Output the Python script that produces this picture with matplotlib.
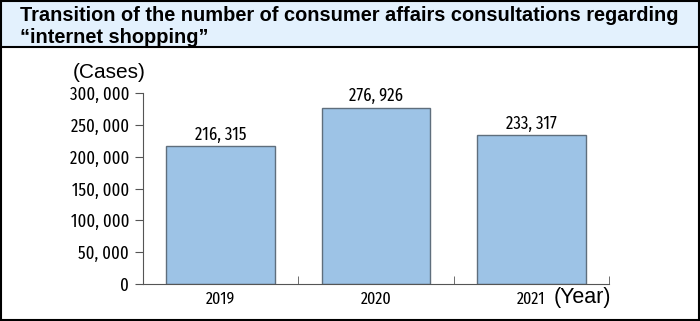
import matplotlib.pyplot as plt
from matplotlib.patches import Rectangle
from matplotlib.lines import Line2D

years = ["2019", "2020", "2021"]
cases = [216315, 276926, 233317]
value_labels = ["216, 315", "276, 926", "233, 317"]
yticks = [0, 50000, 100000, 150000, 200000, 250000, 300000]
ytick_labels = ["0", "50, 000", "100, 000", "150, 000", "200, 000", "250, 000", "300, 000"]

narrow = "Fira Sans Extra Condensed"

fig = plt.figure(figsize=(7, 3.21), dpi=100)

# title band
fig.patches.append(Rectangle((0, 1 - 47 / 321), 1, 47 / 321, transform=fig.transFigure,
                             facecolor="#e3f1fd", edgecolor="none", zorder=0))
fig.lines.append(Line2D([0, 1], [1 - 47 / 321] * 2, transform=fig.transFigure, color="black", lw=1.5))
fig.patches.append(Rectangle((0.001, 0.002), 0.997, 0.996, transform=fig.transFigure,
                             facecolor="none", edgecolor="black", lw=1.5))
fig.text(20 / 700, 1 - 6 / 321,
         "Transition of the number of consumer affairs consultations regarding\n\u201cinternet shopping\u201d",
         ha="left", va="top", fontsize=14.4, fontweight="bold", family="Liberation Sans", linespacing=1.22)

ax = fig.add_axes([143 / 700, 37 / 321, 466 / 700, 191 / 321])
x = [0, 1, 2]
ax.bar(x, cases, width=0.7, color="#9dc3e6", edgecolor="#5f6e7c", linewidth=1)
for xi, v, lab in zip(x, cases, value_labels):
    ax.text(xi, v + 4000, lab, ha="center", va="bottom", fontsize=13, family=narrow)

ax.set_xlim(-0.5, 2.5)
ax.set_ylim(0, 300000)
ax.set_yticks(yticks)
ax.set_yticklabels(ytick_labels, family=narrow, fontsize=13)
ax.set_xticks(x)
ax.set_xticklabels(years, family=narrow, fontsize=12.5)
ax.tick_params(axis="x", length=0, pad=5)
ax.set_xticks([-0.5, 0.5, 1.5, 2.5], minor=True)
ax.tick_params(axis="x", which="minor", direction="in", length=6, color="#555555")
ax.tick_params(axis="y", length=6, color="#555555", pad=4)
for s in ["top", "right"]:
    ax.spines[s].set_visible(False)
for s in ["left", "bottom"]:
    ax.spines[s].set_color("#555555")

fig.text(73 / 700, 1 - 73 / 321, "(Cases)", ha="left", va="center", fontsize=15, family="Liberation Sans")
fig.text(611 / 700, 1 - 298 / 321, "(Year)", ha="right", va="center", fontsize=15.5, family="Liberation Sans")

fig.savefig("out.png", dpi=100)
